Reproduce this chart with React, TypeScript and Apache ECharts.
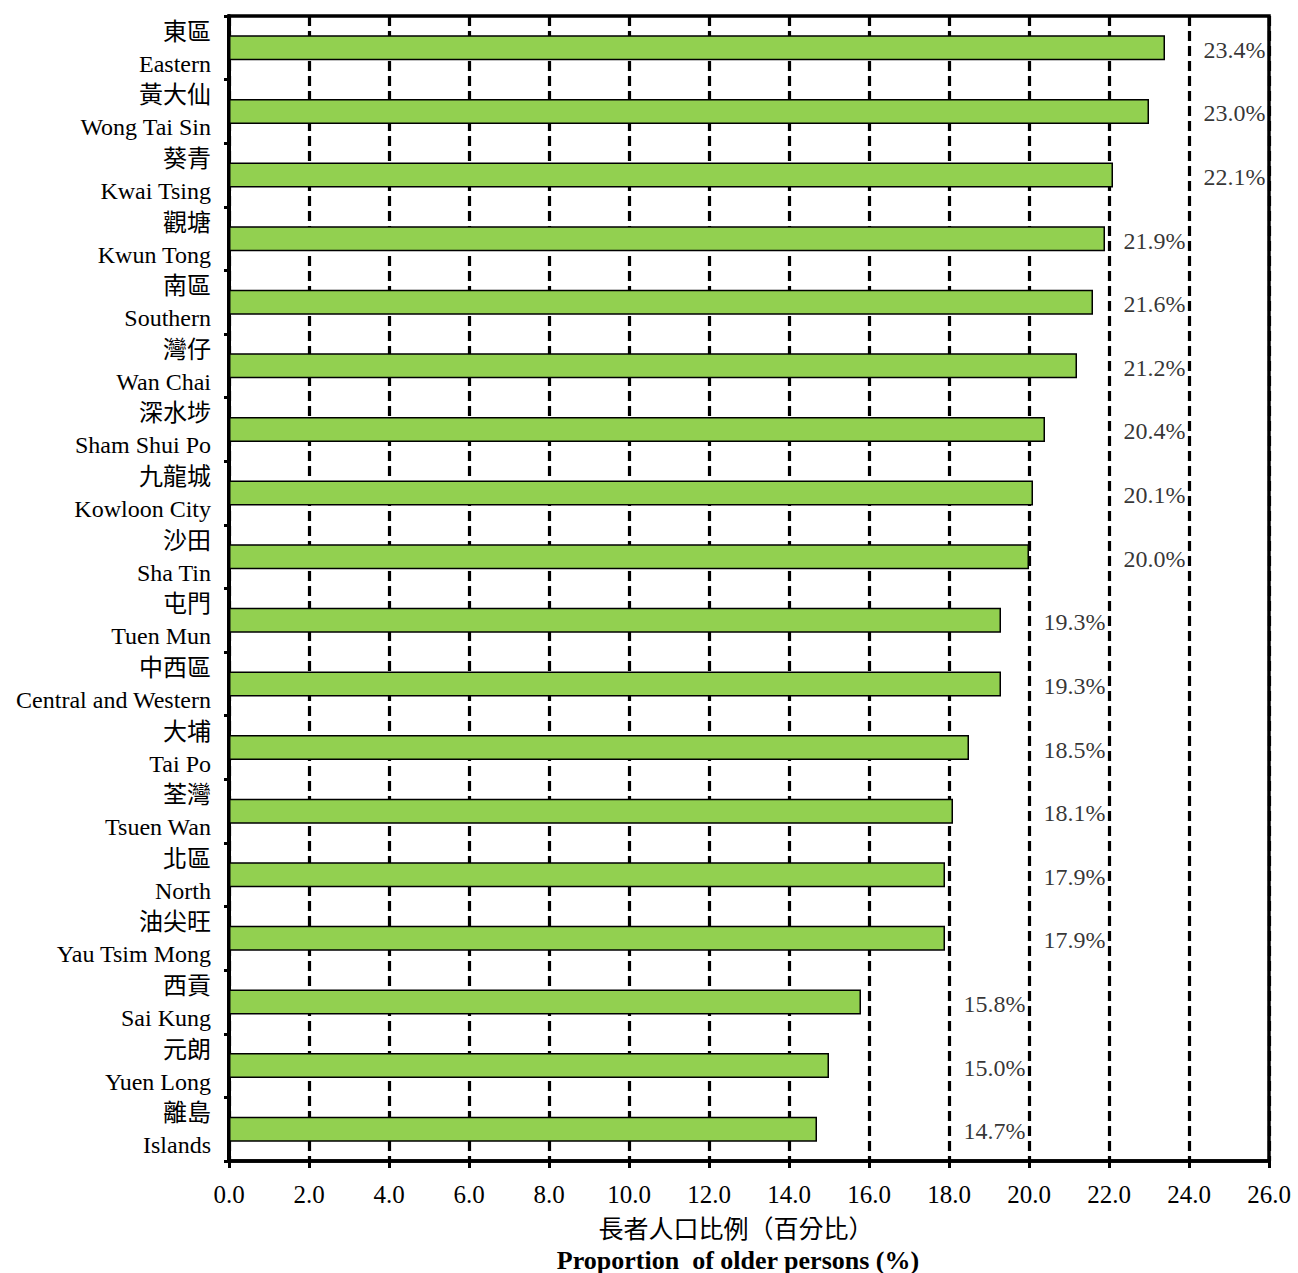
import React, { useEffect, useRef } from "react";
import * as echarts from "echarts";

// Districts, top to bottom
const districtsZh = [
  "東區", "黃大仙", "葵青", "觀塘", "南區", "灣仔", "深水埗", "九龍城", "沙田",
  "屯門", "中西區", "大埔", "荃灣", "北區", "油尖旺", "西貢", "元朗", "離島",
];
const districtsEn = [
  "Eastern", "Wong Tai Sin", "Kwai Tsing", "Kwun Tong", "Southern", "Wan Chai",
  "Sham Shui Po", "Kowloon City", "Sha Tin", "Tuen Mun", "Central and Western",
  "Tai Po", "Tsuen Wan", "North", "Yau Tsim Mong", "Sai Kung", "Yuen Long", "Islands",
];
// Proportion of older persons (%)
const olderShare = [
  23.4, 23.0, 22.1, 21.9, 21.6, 21.2, 20.4, 20.1, 20.0,
  19.3, 19.3, 18.5, 18.1, 17.9, 17.9, 15.8, 15.0, 14.7,
];
// Gridline each value label is right-aligned against
const labelAnchor = [
  26, 26, 26, 24, 24, 24, 24, 24, 24,
  22, 22, 22, 22, 22, 22, 20, 20, 20,
];
const xTicks = { min: 0, max: 26, interval: 2 };

const FONT = "'Liberation Serif', 'Times New Roman', 'Noto Sans CJK TC', serif";
const W = 1298;
const H = 1273;

export default function App() {
  const ref = useRef<HTMLDivElement>(null);

  useEffect(() => {
    document.body.style.margin = "0";
    if (!ref.current) return;
    const chart = echarts.init(ref.current, undefined, { renderer: "svg" });
    const categories = districtsZh.map((zh, i) => zh + "\n" + districtsEn[i]);

    chart.setOption({
      animation: false,
      backgroundColor: "#fff",
      textStyle: { fontFamily: FONT, color: "#000" },
      grid: {
        left: 229,
        right: 29,
        top: 16,
        bottom: 112,
        show: true,
        borderColor: "#000",
        borderWidth: 3.5,
        backgroundColor: "transparent",
      },
      xAxis: {
        type: "value",
        min: xTicks.min,
        max: xTicks.max,
        interval: xTicks.interval,
        axisLine: { show: true, lineStyle: { color: "#000", width: 3.5 } },
        axisTick: { show: true, length: 7, lineStyle: { color: "#000", width: 3 } },
        axisLabel: {
          fontFamily: FONT,
          fontSize: 25,
          color: "#000",
          margin: 21,
          formatter: (v: number) => v.toFixed(1),
        },
        splitLine: {
          show: true,
          lineStyle: { color: "#000", width: 3.2, type: [10, 5] },
        },
      },
      yAxis: {
        type: "category",
        inverse: true,
        data: categories,
        axisLine: { show: true, lineStyle: { color: "#000", width: 4 } },
        axisTick: { show: true, length: 5, lineStyle: { color: "#000", width: 3 } },
        axisLabel: {
          interval: 0,
          showMinLabel: true,
          showMaxLabel: true,
          fontFamily: FONT,
          fontSize: 24,
          lineHeight: 32,
          color: "#000",
          margin: 18,
          align: "right",
        },
        splitLine: { show: false },
      },
      series: [
        {
          type: "bar",
          data: olderShare,
          barWidth: 25,
          itemStyle: { color: "#92D050", borderColor: "#000", borderWidth: 1.5 },
          z: 3,
        },
        {
          type: "scatter",
          data: labelAnchor.map((a, i) => [a, i]),
          symbolSize: 1,
          itemStyle: { color: "rgba(0,0,0,0)" },
          silent: true,
          z: 4,
          label: {
            show: true,
            position: "left",
            distance: 3,
            fontFamily: FONT,
            fontSize: 24,
            color: "#000",
            offset: [0, 2],
            formatter: (p: any) => olderShare[p.dataIndex].toFixed(1) + "%",
          },
        },
      ],
      graphic: [
        {
          type: "text",
          x: 736,
          y: 1227,
          style: {
            text: "長者人口比例（百分比）",
            font: "25px 'Noto Sans CJK TC', sans-serif",
            fill: "#000",
            align: "center",
            verticalAlign: "middle",
          },
        },
        {
          type: "text",
          x: 738,
          y: 1260,
          style: {
            text: "Proportion  of older persons (%)",
            font: "bold 26px 'Liberation Serif', 'Times New Roman', serif",
            fill: "#000",
            align: "center",
            verticalAlign: "middle",
          },
        },
      ],
    });

    return () => chart.dispose();
  }, []);

  return <div ref={ref} style={{ width: W, height: H }} />;
}
